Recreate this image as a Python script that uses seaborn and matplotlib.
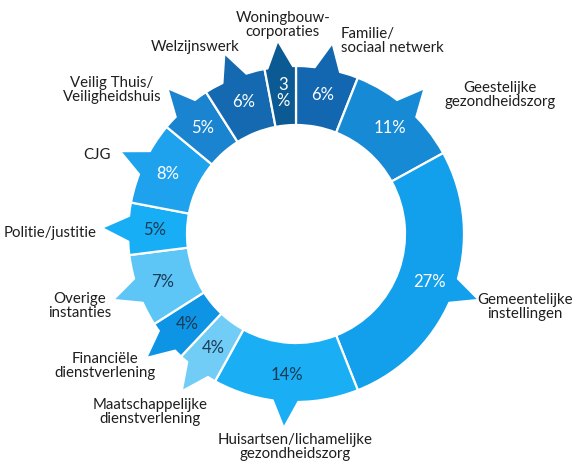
import numpy as np
import matplotlib
matplotlib.use('Agg')
import matplotlib.pyplot as plt
from matplotlib.patches import Polygon
import seaborn as sns

# Données (sens horaire, départ à midi)
categories = [
    "Familie/\nsociaal netwerk",
    "Geestelijke\ngezondheidszorg",
    "Gemeentelijke\ninstellingen",
    "Huisartsen/lichamelijke\ngezondheidszorg",
    "Maatschappelijke\ndienstverlening",
    "Financiële\ndienstverlening",
    "Overige\ninstanties",
    "Politie/justitie",
    "CJG",
    "Veilig Thuis/\nVeiligheidshuis",
    "Welzijnswerk",
    "Woningbouw-\ncorporaties",
]
shares = [6, 11, 27, 14, 4, 4, 7, 5, 8, 5, 6, 3]
pct_labels = ["6%", "11%", "27%", "14%", "4%", "4%", "7%", "5%", "8%", "5%", "6%", "3\n%"]

# Mise en forme
colors = ["#1367b0", "#178ad6", "#12a0ec", "#1aaef5", "#72cdf6", "#0e94e4",
          "#5ec6f7", "#18aef5", "#1ea2ee", "#1a84d0", "#1569b0", "#0c5a94"]
pct_colors = ["white", "white", "white", "#1b3a55", "#1b3a55", "#1b3a55",
              "#1b3a55", "#1b3a55", "white", "white", "white", "white"]
# position des étiquettes (pixels, origine en haut à gauche) et alignement
label_pos = [(341, 41, "left"), (500, 95, "center"), (525, 307, "center"),
             (295, 447, "center"), (150, 412, "center"), (105, 366, "center"),
             (80, 306, "center"), (50, 233, "center"), (97, 155, "center"),
             (112, 90, "center"), (195, 47, "center"), (283, 25, "center")]

W, H = 578, 465
CX, CY = 296, H - 234
R_OUT, R_IN = 168, 109

sns.set_theme(style="white")
plt.rcParams['font.family'] = ['Lato', 'DejaVu Sans']

fig = plt.figure(figsize=(W / 100, H / 100), dpi=100)
ax = fig.add_axes([0, 0, 1, 1])

wedges, _ = ax.pie(shares, colors=colors, startangle=90, counterclock=False,
                   radius=R_OUT, center=(CX, CY),
                   wedgeprops=dict(width=R_OUT - R_IN, edgecolor="white", linewidth=1.6))

# petites flèches vers les étiquettes
for w, c in zip(wedges, colors):
    mid = np.deg2rad((w.theta1 + w.theta2) / 2)
    span = np.deg2rad(abs(w.theta2 - w.theta1))
    half = min(13.0 / R_OUT, span / 2 - 0.012)
    rb = R_OUT - 2.5
    pts = [(CX + rb * np.cos(mid - half), CY + rb * np.sin(mid - half)),
           (CX + 192 * np.cos(mid), CY + 192 * np.sin(mid)),
           (CX + rb * np.cos(mid + half), CY + rb * np.sin(mid + half))]
    ax.add_patch(Polygon(pts, closed=True, facecolor=c, edgecolor="none", zorder=3))

for w, txt, tc in zip(wedges, pct_labels, pct_colors):
    mid = np.deg2rad((w.theta1 + w.theta2) / 2)
    r = (R_OUT + R_IN) / 2 + 3
    ax.text(CX + r * np.cos(mid), CY + r * np.sin(mid), txt, color=tc,
            ha="center", va="center", fontsize=12, linespacing=0.95, zorder=4)

for name, (x, y, ha) in zip(categories, label_pos):
    ax.text(x, H - y, name, ha=ha, va="center", fontsize=10.8, color="#1e1e1e",
            linespacing=1.05, multialignment="left" if ha == "left" else "center")

ax.set_xlim(0, W)
ax.set_ylim(0, H)
ax.set_aspect("equal")
ax.axis("off")

fig.savefig("out.png", dpi=100)
